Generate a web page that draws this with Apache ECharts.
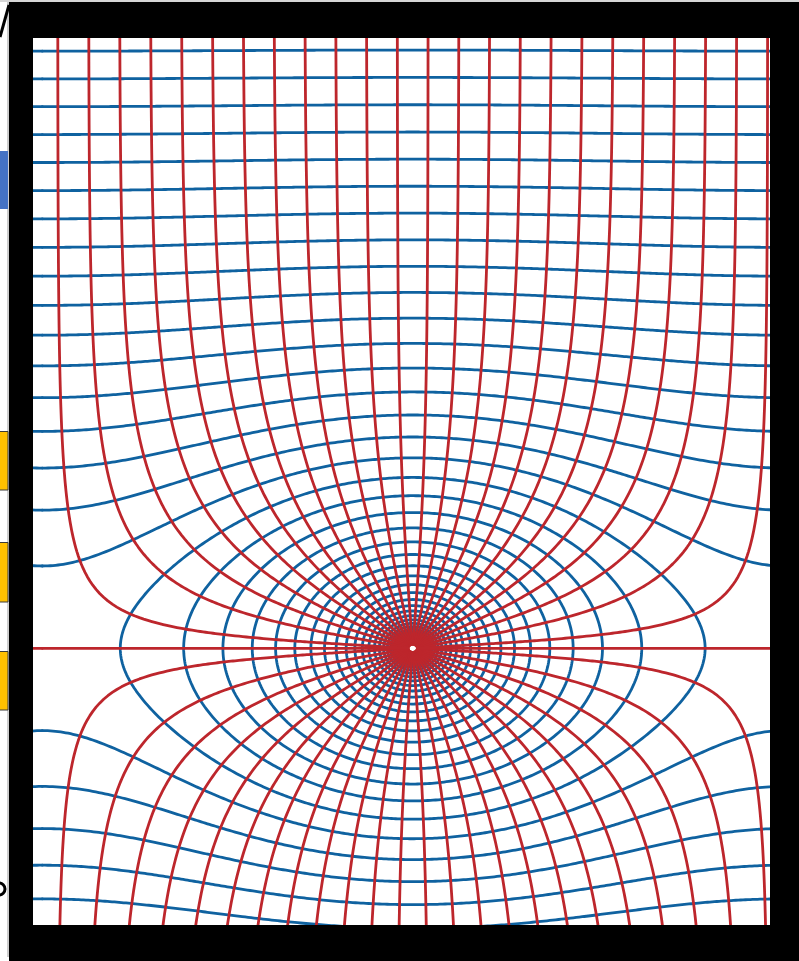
<!DOCTYPE html>
<html>
<head>
<meta charset="utf-8">
<script src="https://cdn.jsdelivr.net/npm/echarts@6/dist/echarts.min.js"></script>
<style>
  html, body { margin: 0; padding: 0; background: #ffffff; }
  #chart { width: 799px; height: 961px; }
</style>
</head>
<body>
<div id="chart"></div>
<script>
// Line charge repeated every cellWidth along x (charge at the origin).
// Complex potential w = ln sin(pi z / cellWidth):
//   field lines     -> arg sin(...) = const
//   equipotentials  -> ln|sin(...)| = const
const cellWidth = 2;

// Directions (degrees) at which field lines leave the charge
const fieldLineAnglesDeg = [
  3.75, 11.25, 18.75, 26.25, 33.75, 41.25, 48.75, 56.25, 63.75, 71.25, 78.75, 86.25,
  93.75, 101.25, 108.75, 116.25, 123.75, 131.25, 138.75, 146.25, 153.75, 161.25, 168.75, 176.25,
  183.75, 191.25, 198.75, 206.25, 213.75, 221.25, 228.75, 236.25, 243.75, 251.25, 258.75, 266.25,
  273.75, 281.25, 288.75, 296.25, 303.75, 311.25, 318.75, 326.25, 333.75, 341.25, 348.75, 356.25
];
// The symmetry axis through the charge, drawn out to the saddle points
const axisLineAnglesDeg = [0, 180];

// Equipotential levels, ln|sin(pi z / cellWidth)|
const equipotentialLevels = [
  -2.7737, -2.6378, -2.5019, -2.3660, -2.2301, -2.0942, -1.9583, -1.8224, -1.6865, -1.5506,
  -1.4147, -1.2788, -1.1429, -1.0070, -0.8711, -0.7352, -0.5993, -0.4634, -0.3275, -0.1916,
  -0.0557, 0.0802, 0.2161, 0.3520, 0.4879, 0.6238, 0.7597, 0.8956, 1.0315, 1.1674,
  1.3033, 1.4392, 1.5751, 1.7110, 1.8469, 1.9828, 2.1187, 2.2546, 2.3905
];

// Visible window (same units as cellWidth)
const xRange = [-1.02511, 0.96463];
const yRange = [-0.86876, 1.91617];

// Field lines start just outside the charge and run out past the window
const fieldRadiusMin = 0.02;
const fieldRadiusMax = 12;

const fieldColor = '#bd262c';
const equipColor = '#0f62a0';
const lineWidth = 2.8;

// --- complex helpers -------------------------------------------------------
function cmul(a, b) { return [a[0] * b[0] - a[1] * b[1], a[0] * b[1] + a[1] * b[0]]; }
function csqrt(a) {
  const m = Math.hypot(a[0], a[1]);
  const re = Math.sqrt(Math.max(0, (m + a[0]) / 2));
  let im = Math.sqrt(Math.max(0, (m - a[0]) / 2));
  if (a[1] < 0) im = -im;
  return [re, im];
}
function clog(a) { return [Math.log(Math.hypot(a[0], a[1])), Math.atan2(a[1], a[0])]; }
// principal arcsin: -i ln(i z + sqrt(1 - z^2))
function casin(z) {
  const z2 = cmul(z, z);
  const s = csqrt([1 - z2[0], -z2[1]]);
  const t = [-z[1] + s[0], z[0] + s[1]];
  const l = clog(t);
  return [l[1], -l[0]];
}
// point in the plane where sin(pi z / cellWidth) = r e^{i theta}
function toPlane(r, theta) {
  const w = casin([r * Math.cos(theta), r * Math.sin(theta)]);
  const k = cellWidth / Math.PI;
  return [w[0] * k, w[1] * k];
}

// --- curve builders --------------------------------------------------------
function fieldLine(theta, rMax) {
  const n = 700, pts = [];
  const a = Math.log(fieldRadiusMin), b = Math.log(rMax);
  for (let i = 0; i <= n; i++) {
    pts.push(toPlane(Math.exp(a + (b - a) * i / n), theta));
  }
  return pts;
}
function equipotentialHalf(level, t0, t1) {
  const n = 720, pts = [], r = Math.exp(level);
  for (let i = 0; i <= n; i++) pts.push(toPlane(r, t0 + (t1 - t0) * i / n));
  return pts;
}
function shifted(pts, dx) { return pts.map(p => [p[0] + dx, p[1]]); }
function visible(pts) {
  const m = 0.02;
  return pts.some(p => p[0] >= xRange[0] - m && p[0] <= xRange[1] + m &&
                       p[1] >= yRange[0] - m && p[1] <= yRange[1] + m);
}

const series = [];
function addCurve(pts, color, z) {
  for (const dx of [-cellWidth, 0, cellWidth]) {
    const p = dx === 0 ? pts : shifted(pts, dx);
    if (!visible(p)) continue;
    series.push({
      type: 'line',
      data: p,
      showSymbol: false,
      symbol: 'none',
      silent: true,
      animation: false,
      clip: true,
      z: z,
      lineStyle: { color: color, width: lineWidth, cap: 'round', join: 'round' }
    });
  }
}

const eps = 1e-9;
// equipotentials underneath
equipotentialLevels.forEach(level => {
  addCurve(equipotentialHalf(level, eps, Math.PI - eps), equipColor, 2);
  addCurve(equipotentialHalf(level, Math.PI + eps, 2 * Math.PI - eps), equipColor, 2);
});
// field lines on top
fieldLineAnglesDeg.forEach(deg => addCurve(fieldLine(deg * Math.PI / 180, fieldRadiusMax), fieldColor, 3));
axisLineAnglesDeg.forEach(deg => addCurve(fieldLine(deg * Math.PI / 180, 1), fieldColor, 3));

// frame and the slide fragments at the left margin
const frameZ = 100;
const graphic = [
  { type: 'rect', z: frameZ, shape: { x: 0, y: 0, width: 799, height: 2 }, style: { fill: '#d6d6d6' } },
  { type: 'rect', z: frameZ, shape: { x: 7.5, y: 2, width: 1, height: 955 }, style: { fill: '#9c9c9c' } },
  { type: 'rect', z: frameZ, shape: { x: 0, y: 151, width: 8, height: 58 }, style: { fill: '#4472c4' } },
  { type: 'rect', z: frameZ, shape: { x: -2, y: 431.5, width: 10, height: 58.5 }, style: { fill: '#ffc000', stroke: '#3a3a3a', lineWidth: 1 } },
  { type: 'rect', z: frameZ, shape: { x: -2, y: 542.5, width: 10, height: 59.5 }, style: { fill: '#ffc000', stroke: '#3a3a3a', lineWidth: 1 } },
  { type: 'rect', z: frameZ, shape: { x: -2, y: 651.5, width: 10, height: 58.5 }, style: { fill: '#ffc000', stroke: '#3a3a3a', lineWidth: 1 } },
  { type: 'rect', z: frameZ, shape: { x: 9, y: 2, width: 790, height: 36 }, style: { fill: '#000000' } },
  { type: 'rect', z: frameZ, shape: { x: 9, y: 2, width: 24, height: 959 }, style: { fill: '#000000' } },
  { type: 'rect', z: frameZ, shape: { x: 770, y: 2, width: 29, height: 959 }, style: { fill: '#000000' } },
  { type: 'rect', z: frameZ, shape: { x: 9, y: 925, width: 790, height: 36 }, style: { fill: '#000000' } },
  { type: 'line', z: frameZ, shape: { x1: 0, y1: 37, x2: 9, y2: 5 }, style: { stroke: '#000000', lineWidth: 3 } },
  { type: 'arc', z: frameZ, shape: { cx: -1, cy: 889, r: 6, startAngle: -Math.PI / 2, endAngle: Math.PI / 2 },
    style: { stroke: '#000000', lineWidth: 3, fill: null } }
];

const chart = echarts.init(document.getElementById('chart'), null, { renderer: 'canvas' });
chart.setOption({
  backgroundColor: '#ffffff',
  animation: false,
  grid: { left: 33, top: 38, width: 737, height: 887, containLabel: false },
  xAxis: { type: 'value', min: xRange[0], max: xRange[1], show: false, splitLine: { show: false } },
  yAxis: { type: 'value', min: yRange[0], max: yRange[1], show: false, splitLine: { show: false } },
  series: series,
  graphic: graphic
});
</script>
</body>
</html>
